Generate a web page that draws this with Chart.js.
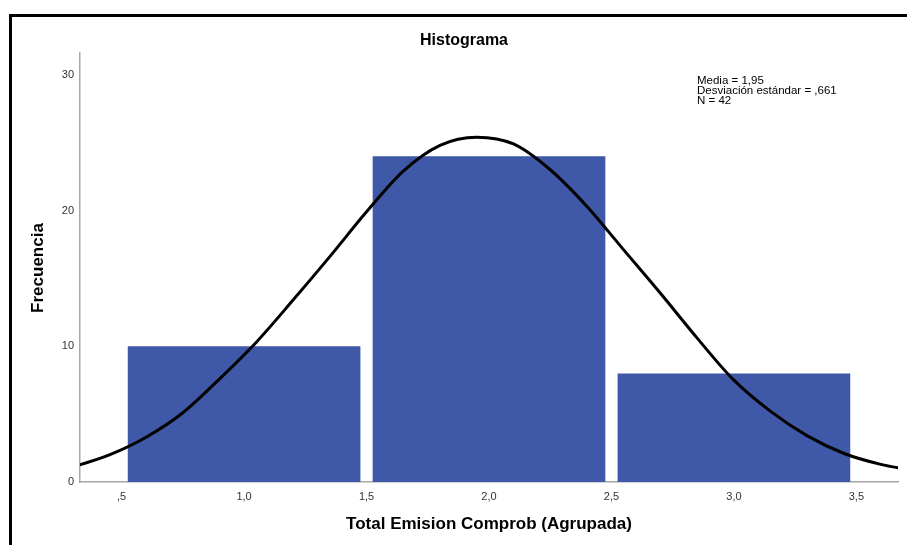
<!DOCTYPE html>
<html>
<head>
<meta charset="utf-8">
<script src="https://cdn.jsdelivr.net/npm/chart.js@4"></script>
<style>
  body { margin: 0; background: #fff; overflow: hidden; }
  #frame { position: absolute; left: 9px; top: 14px; width: 1000px; height: 1000px; border: 3px solid #000; }
  #wrap { position: absolute; left: 0; top: 0; width: 907px; height: 545px; }
</style>
</head>
<body>
<div id="frame"></div>
<div id="wrap"><canvas id="histChart" width="907" height="545"></canvas></div>
<script>
// histogram bins (midpoints) and counts
const binCenters = [1, 2, 3];
const binCounts = [10, 24, 8];

// normal curve (every 0.15 around the peak at 1,95)
const curveX = [0.30, 0.45, 0.60, 0.75, 0.90, 1.05, 1.20, 1.35, 1.50, 1.65, 1.80, 1.95,
                2.10, 2.25, 2.40, 2.55, 2.70, 2.85, 3.00, 3.15, 3.30, 3.45, 3.60, 3.75];
const curveY = [1.1, 2.0, 3.3, 5.1, 7.6, 10.3, 13.4, 16.6, 19.9, 22.9, 24.8, 25.4,
                24.9, 23.0, 20.3, 17.1, 13.9, 10.6, 7.5, 5.2, 3.4, 2.1, 1.3, 0.8];

// ticks
const xTickValues = [0.5, 1.0, 1.5, 2.0, 2.5, 3.0, 3.5];
const xTickLabels = [",5", "1,0", "1,5", "2,0", "2,5", "3,0", "3,5"];
const yTickValues = [0, 10, 20, 30];

const statsLines = ["Media = 1,95", "Desviación estándar = ,661", "N = 42"];

const FONT = "'Liberation Sans', Arial, sans-serif";

// titles and stats box
const textPlugin = {
    id: "textPlugin",
    afterDraw(chart) {
        const ctx = chart.ctx;
        ctx.save();
        ctx.fillStyle = "#000";
        ctx.textAlign = "center";
        ctx.textBaseline = "middle";

        ctx.font = "bold 16px " + FONT;
        ctx.fillText("Histograma", 464, 41);

        ctx.font = "bold 17px " + FONT;
        ctx.fillText("Total Emision Comprob (Agrupada)", 489, 524);

        ctx.save();
        ctx.translate(38, 268);
        ctx.rotate(-Math.PI / 2);
        ctx.fillText("Frecuencia", 0, 0);
        ctx.restore();

        ctx.font = "11.5px " + FONT;
        ctx.textAlign = "left";
        statsLines.forEach((line, i) => {
            ctx.fillText(line, 697, 81 + i * 10);
        });
        ctx.restore();
    }
};

const ctx = document.getElementById("histChart").getContext("2d");

new Chart(ctx, {
    type: "bar",
    data: {
        datasets: [
            {
                type: "line",
                data: curveX.map((x, i) => ({ x: x, y: curveY[i] })),
                borderColor: "#000",
                borderWidth: 3,
                pointRadius: 0,
                fill: false,
                cubicInterpolationMode: "monotone",
                order: 0
            },
            {
                type: "bar",
                data: binCenters.map((x, i) => ({ x: x, y: binCounts[i] })),
                backgroundColor: "#3f59a8",
                borderWidth: 0,
                // ruler uses the 0.5 tick spacing, so 1.9 gives ~0.95 of a bin
                barPercentage: 1.9,
                categoryPercentage: 1,
                order: 1
            }
        ]
    },
    options: {
        responsive: false,
        animation: false,
        devicePixelRatio: 1,
        layout: { padding: { top: 53, right: 9, left: 0, bottom: 0 } },
        plugins: {
            legend: { display: false },
            tooltip: { enabled: false },
            title: { display: false }
        },
        scales: {
            x: {
                type: "linear",
                min: 0.33,
                max: 3.67,
                offset: false,
                grid: { display: false, drawTicks: false },
                border: { display: true, color: "#a8a8a8", width: 1.5 },
                ticks: {
                    font: { family: FONT, size: 11 },
                    color: "#333",
                    padding: 8,
                    autoSkip: false,
                    maxRotation: 0,
                    callback: (v) => {
                        const idx = xTickValues.findIndex(t => Math.abs(t - v) < 1e-6);
                        return idx >= 0 ? xTickLabels[idx] : "";
                    }
                },
                afterBuildTicks: (axis) => { axis.ticks = xTickValues.map(v => ({ value: v })); },
                afterFit: (axis) => { axis.height = 63; }
            },
            y: {
                min: 0,
                max: 31.6,
                grid: { display: false, drawTicks: false },
                border: { display: true, color: "#a8a8a8", width: 1.5 },
                ticks: {
                    font: { family: FONT, size: 11 },
                    color: "#333",
                    padding: 6
                },
                afterBuildTicks: (axis) => { axis.ticks = yTickValues.map(v => ({ value: v })); },
                afterFit: (axis) => { axis.width = 80; }
            }
        }
    },
    plugins: [textPlugin]
});
</script>
</body>
</html>
